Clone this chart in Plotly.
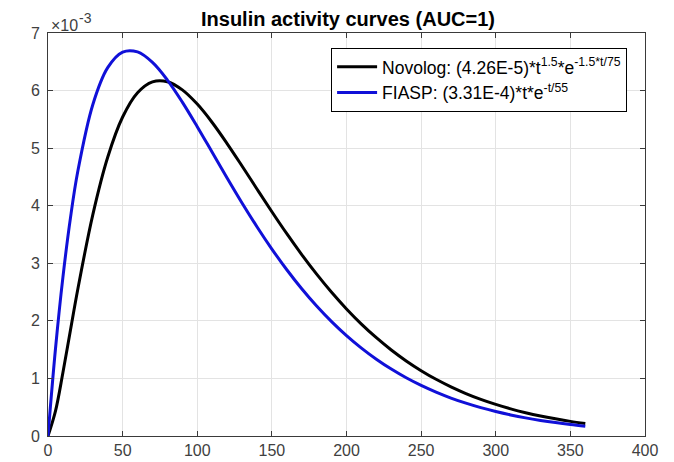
import plotly.graph_objects as go

# Time (minutes)
time_min = [0, 5, 10, 15, 20, 30, 40, 50, 60, 70, 80, 90, 100, 110, 120, 130, 140, 150,
            160, 170, 180, 190, 200, 210, 220, 230, 240, 250, 260, 270, 280, 290, 300,
            310, 320, 330, 340, 350, 360]

# Activity values (in units of 1e-3)
novolog = [0.0, 0.431, 1.103, 1.833, 2.554, 3.842, 4.842, 5.541, 5.963, 6.152, 6.154,
           6.012, 5.765, 5.446, 5.080, 4.690, 4.291, 3.896, 3.514, 3.151, 2.811, 2.496,
           2.207, 1.944, 1.707, 1.494, 1.304, 1.135, 0.985, 0.854, 0.738, 0.637, 0.549,
           0.472, 0.405, 0.347, 0.298, 0.254, 0.217]
fiasp = [0.0, 1.511, 2.760, 3.780, 4.602, 5.755, 6.398, 6.668, 6.671, 6.489, 6.183,
         5.800, 5.373, 4.928, 4.482, 4.048, 3.635, 3.247, 2.888, 2.558, 2.258, 1.987,
         1.744, 1.527, 1.334, 1.162, 1.011, 0.878, 0.762, 0.659, 0.570, 0.492, 0.425,
         0.366, 0.315, 0.271, 0.233, 0.200, 0.171]

series_names = ["Novolog: (4.26E-5)*t<sup>1.5</sup>*e<sup>-1.5*t/75</sup>",
                "FIASP: (3.31E-4)*t*e<sup>-t/55</sup>"]
x_ticks = [0, 50, 100, 150, 200, 250, 300, 350, 400]
y_ticks = [0, 1, 2, 3, 4, 5, 6, 7]

FONT = "Liberation Sans, Arial, sans-serif"
AXCOL = "#3a3a3a"
TICKCOL = "#404040"

fig = go.Figure()
fig.add_trace(go.Scatter(x=time_min, y=novolog, mode="lines", name=series_names[0],
                         line=dict(color="#000000", width=3, shape="spline")))
fig.add_trace(go.Scatter(x=time_min, y=fiasp, mode="lines", name=series_names[1],
                         line=dict(color="#1010d8", width=3, shape="spline")))

axis_common = dict(showgrid=True, gridcolor="#e3e3e3", gridwidth=1,
                   showline=True, linecolor=AXCOL, linewidth=1, mirror="ticks",
                   ticks="inside", ticklen=5, tickcolor=AXCOL, zeroline=False,
                   automargin=False,
                   tickfont=dict(family=FONT, size=16, color=TICKCOL))

fig.update_xaxes(range=[0, 400], tickvals=x_ticks, **axis_common)
fig.update_yaxes(range=[0, 7], tickvals=y_ticks, ticklabelstandoff=4, **axis_common)

fig.update_layout(
    width=674, height=462,
    margin=dict(l=48, r=29, t=33, b=26),
    paper_bgcolor="white", plot_bgcolor="white",
    title=dict(text="<b>Insulin activity curves (AUC=1)</b>", x=348 / 674, xanchor="center",
               y=1 - 19 / 462, yanchor="middle", yref="container",
               font=dict(family=FONT, size=20, color="#000000")),
    legend=dict(x=0.970, y=0.963, xanchor="right", yanchor="top",
                bgcolor="white", bordercolor="#000000", borderwidth=1,
                font=dict(family=FONT, size=17.5, color="#000000"),
                itemwidth=40, tracegroupgap=0),
    showlegend=True,
    annotations=[
        dict(text="\u00d710", xref="paper", yref="paper",
             x=1 / 597, y=(436 - 25) / 403, xanchor="left", yanchor="middle", showarrow=False,
             font=dict(family=FONT, size=16, color=TICKCOL)),
        dict(text="-3", xref="paper", yref="paper",
             x=(77 - 48) / 597, y=(436 - 18) / 403, xanchor="left", yanchor="middle",
             showarrow=False, font=dict(family=FONT, size=14, color=TICKCOL)),
    ],
)

fig.write_html("out.html", config={"displayModeBar": False},
               post_script="document.body.style.margin='0';")
